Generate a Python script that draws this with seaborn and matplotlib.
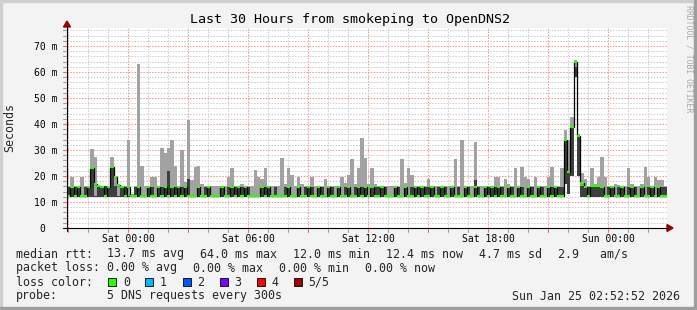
import matplotlib
matplotlib.use("Agg")
import matplotlib.pyplot as plt
import seaborn as sns
import numpy as np
import pandas as pd
from matplotlib.transforms import IdentityTransform, ScaledTranslation
from matplotlib.lines import Line2D
from matplotlib.patches import Polygon, Rectangle

# ---------------- data ----------------
START_H = -3.05          # left edge, hours relative to Sat 00:00
STEP_H = 1.0 / 6.0       # 10-minute bins
SPAN_H = 30.0

med = [
    12.2, 15.6, 12.2, 15.6, 12.2, 12.2, 15.6, 23.0, 16.8, 16.0, 15.8, 12.2,
    15.6, 23.3, 19.5, 16.5, 15.6, 12.2, 15.6, 12.2, 12.2, 15.6, 12.2, 12.2,
    15.6, 12.2, 12.2, 15.6, 12.2, 15.6, 12.2, 15.6, 12.2, 15.6, 12.2, 15.6,
    12.2, 12.2, 12.2, 15.6, 12.2, 12.2, 15.6, 12.2, 12.2, 12.2, 15.6, 12.2,
    12.2, 15.6, 12.2, 15.6, 12.2, 15.6, 12.2, 12.2, 12.2, 12.2, 15.6, 12.2,
    15.6, 12.2, 12.2, 12.2, 12.2, 12.2, 15.6, 12.2, 12.2, 15.6, 12.2, 12.2,
    15.6, 12.2, 12.2, 15.6, 12.2, 12.2, 15.6, 12.2, 12.2, 15.6, 12.2, 12.2,
    15.6, 12.2, 12.2, 15.6, 12.2, 15.6, 12.2, 15.6, 12.2, 12.2, 15.6, 12.2,
    12.2, 12.2, 15.6, 12.2, 12.2, 15.6, 12.2, 12.2, 15.6, 12.2, 15.6, 12.2,
    12.2, 15.6, 12.2, 12.2, 15.6, 12.2, 12.2, 15.6, 12.2, 12.2, 12.2, 15.6,
    12.2, 12.2, 15.6, 12.2, 12.2, 15.6, 12.2, 15.6, 12.2, 15.6, 12.2, 12.2,
    15.6, 12.2, 12.2, 15.6, 12.2, 12.2, 15.6, 12.2, 12.2, 15.6, 12.2, 12.2,
    15.6, 12.2, 15.6, 12.2, 12.2, 34.0, 21.4, 39.0, 64.0, 35.4, 17.3, 15.6,
    12.2, 16.0, 16.0, 16.0, 15.6, 12.2, 12.2, 15.6, 12.2, 12.2, 15.6, 12.2,
    12.2, 15.6, 12.2, 12.2, 15.6, 12.2, 12.2, 15.6, 12.2, 15.6, 12.2, 12.2,
]

dark = [
    15.6, 15.8, 15.6, 16.0, 12.2, 15.8, 15.8, 23.0, 12.2, 16.0, 16.0, 16.0,
    16.0, 23.3, 16.0, 12.2, 15.8, 15.6, 12.2, 12.2, 15.6, 15.8, 12.2, 12.2,
    15.8, 15.6, 12.2, 15.8, 15.6, 15.8, 22.0, 15.8, 15.6, 16.0, 15.6, 15.6,
    19.0, 12.2, 12.2, 15.8, 12.2, 15.6, 15.8, 12.2, 12.2, 12.2, 15.8, 12.2,
    15.6, 15.8, 15.6, 15.8, 15.6, 15.8, 15.6, 12.2, 12.2, 12.2, 15.8, 15.6,
    15.8, 12.2, 15.6, 12.2, 12.2, 15.6, 15.8, 12.2, 12.2, 15.8, 12.2, 15.6,
    15.8, 15.6, 12.2, 15.8, 15.6, 12.2, 15.8, 15.6, 12.2, 15.8, 12.2, 15.6,
    15.8, 12.2, 15.6, 15.8, 15.6, 15.8, 12.2, 15.8, 15.6, 15.6, 15.8, 15.6,
    12.2, 12.2, 15.8, 15.6, 12.2, 15.8, 12.2, 15.6, 15.8, 15.6, 15.8, 15.6,
    15.6, 15.8, 12.2, 15.6, 15.8, 15.6, 12.2, 15.8, 12.2, 15.6, 12.2, 15.8,
    15.6, 12.2, 18.6, 15.6, 12.2, 15.8, 15.6, 15.8, 15.6, 15.8, 15.6, 12.2,
    15.8, 15.6, 12.2, 15.8, 15.6, 12.2, 15.8, 15.6, 12.2, 15.8, 15.6, 12.2,
    15.8, 15.6, 15.8, 15.6, 15.6, 34.0, 21.4, 39.0, 62.0, 35.4, 16.0, 15.8,
    15.6, 16.0, 16.0, 15.8, 15.8, 12.2, 15.6, 15.8, 12.2, 15.6, 15.8, 12.2,
    15.6, 15.8, 15.6, 12.2, 15.8, 12.2, 15.6, 15.8, 12.2, 15.8, 15.6, 15.6,
]

hi = [
    16.0, 19.7, 16.0, 16.2, 19.7, 16.0, 16.0, 30.3, 27.4, 16.4, 16.2, 16.2,
    16.2, 27.4, 19.7, 17.0, 16.0, 16.0, 34.0, 13.0, 16.0, 63.0, 24.0, 16.0,
    16.0, 19.7, 19.7, 16.0, 30.6, 28.7, 30.6, 33.8, 24.0, 16.2, 30.0, 17.8,
    41.5, 18.5, 23.3, 24.0, 16.9, 16.0, 16.0, 16.0, 16.0, 16.0, 16.0, 16.0,
    19.7, 23.0, 16.0, 16.0, 17.0, 16.0, 16.0, 16.0, 22.3, 19.7, 18.9, 23.0,
    16.0, 16.0, 16.0, 16.0, 26.8, 17.0, 23.0, 20.5, 16.0, 19.7, 17.0, 16.0,
    16.0, 19.7, 16.0, 16.0, 16.0, 19.0, 16.0, 16.0, 16.3, 16.0, 19.7, 17.3,
    20.4, 26.4, 17.0, 23.0, 34.5, 26.8, 17.0, 23.0, 16.9, 16.0, 16.0, 16.0,
    16.0, 16.0, 16.0, 16.0, 26.4, 17.2, 23.0, 20.5, 16.0, 16.0, 16.3, 16.0,
    18.9, 16.0, 16.0, 16.0, 16.0, 16.0, 16.0, 16.0, 26.4, 16.0, 33.8, 16.0,
    16.0, 16.0, 33.2, 16.0, 16.0, 16.0, 16.0, 16.0, 19.7, 19.7, 16.0, 19.0,
    17.0, 16.0, 23.0, 16.0, 23.6, 19.7, 19.0, 16.0, 19.7, 16.0, 16.0, 16.0,
    19.7, 23.6, 16.0, 16.0, 23.0, 37.7, 34.0, 42.8, 64.5, 36.0, 21.0, 19.0,
    16.0, 23.0, 17.0, 19.7, 27.4, 19.7, 16.0, 16.0, 17.0, 16.5, 16.0, 16.0,
    23.0, 17.0, 16.0, 16.0, 17.0, 23.6, 19.7, 16.0, 19.7, 18.5, 18.5, 16.0,
]

lo = [
    11.8, 11.8, 11.8, 11.8, 11.8, 11.8, 11.8, 11.8, 11.8, 11.8, 11.8, 11.8,
    11.8, 11.8, 11.8, 11.8, 11.8, 11.8, 11.8, 11.8, 11.8, 11.8, 11.8, 11.8,
    11.8, 11.8, 11.8, 11.8, 11.8, 11.8, 11.8, 11.8, 11.8, 11.8, 11.8, 11.8,
    11.8, 11.8, 11.8, 11.8, 11.8, 11.8, 11.8, 11.8, 11.8, 11.8, 11.8, 11.8,
    11.8, 11.8, 11.8, 11.8, 11.8, 11.8, 11.8, 11.8, 11.8, 11.8, 11.8, 11.8,
    11.8, 11.8, 11.8, 11.8, 11.8, 11.8, 11.8, 11.8, 11.8, 11.8, 11.8, 11.8,
    11.8, 11.8, 11.8, 11.8, 11.8, 11.8, 11.8, 11.8, 11.8, 11.8, 11.8, 11.8,
    11.8, 11.8, 11.8, 11.8, 11.8, 11.8, 11.8, 11.8, 11.8, 11.8, 11.8, 11.8,
    11.8, 11.8, 11.8, 11.8, 11.8, 11.8, 11.8, 11.8, 11.8, 11.8, 11.8, 11.8,
    11.8, 11.8, 11.8, 11.8, 11.8, 11.8, 11.8, 11.8, 11.8, 11.8, 11.8, 11.8,
    11.8, 11.8, 11.8, 11.8, 11.8, 11.8, 11.8, 11.8, 11.8, 11.8, 11.8, 11.8,
    11.8, 11.8, 11.8, 11.8, 11.8, 11.8, 11.8, 11.8, 11.8, 11.8, 11.8, 11.8,
    11.8, 11.8, 11.8, 11.8, 11.8, 17.0, 13.0, 20.0, 58.0, 20.0, 11.8, 11.8,
    11.8, 11.8, 11.8, 11.8, 11.8, 11.8, 11.8, 11.8, 11.8, 11.8, 11.8, 11.8,
    11.8, 11.8, 11.8, 11.8, 11.8, 11.8, 11.8, 11.8, 11.8, 11.8, 11.8, 11.8,
]

x_tick_hours = [0, 6, 12, 18, 24]
x_tick_labels = ["Sat 00:00", "Sat 06:00", "Sat 12:00", "Sat 18:00", "Sun 00:00"]
y_tick_vals = [0, 10, 20, 30, 40, 50, 60, 70]
y_tick_labels = ["0", "10 m", "20 m", "30 m", "40 m", "50 m", "60 m", "70 m"]
Y_MAX = 76.9

title = "Last 30 Hours from smokeping to OpenDNS2"
rtt_stats = ["13.7 ms avg", "64.0 ms max", "12.0 ms min", "12.4 ms now", "4.7 ms sd", "2.9   am/s"]
loss_stats = ["0.00 % avg", "0.00 % max", "0.00 % min", "0.00 % now"]
loss_labels = ["0", "1", "2", "3", "4", "5/5"]
loss_colors = ["#26ff00", "#00b8ff", "#0059ff", "#7e00ff", "#ff0000", "#a10000"]
probe_text = "5 DNS requests every 300s"
stamp = "Sun Jan 25 02:52:52 2026"

# ---------------- figure ----------------
W, H = 697, 310
sns.set_theme(style="white")
plt.rcParams["font.family"] = ["DejaVu Sans Mono", "DejaVu Sans"]

fig = plt.figure(figsize=(W / 100, H / 100), dpi=100, facecolor="#f3f3f3")
ax = fig.add_axes([67 / W, (H - 228) / H, 600 / W, 200 / H])
ax.set_facecolor("white")

n = len(med)
t = START_H + np.arange(n) * STEP_H
df = pd.DataFrame({"t": t, "med": med, "dark": dark, "hi": hi, "lo": lo})

# grid (under the smoke)
minor_c, major_c = "#cdcdcd", "#ff9090"
for h in range(int(np.ceil(START_H)), int(START_H + SPAN_H) + 1):
    c = major_c if h % 3 == 0 else minor_c
    ax.axvline(h, color=c, lw=0.75, ls=(0, (1.4, 1.4)), zorder=1)
for v in np.arange(2, Y_MAX, 2):
    c = major_c if int(round(v)) % 10 == 0 else minor_c
    ax.axhline(v, color=c, lw=0.75, ls=(0, (1.4, 1.4)), zorder=1)

# smoke
ax.bar(df["t"], df["hi"] - df["lo"], bottom=df["lo"], width=STEP_H, align="edge",
       color="#a2a2a2", linewidth=0, zorder=2)
ax.bar(df["t"], np.maximum(df["dark"] - df["lo"], 0), bottom=df["lo"], width=STEP_H,
       align="edge", color="#3e3e3e", linewidth=0, zorder=3)

# median: black step line + green segments
step_df = pd.DataFrame({"t": np.append(t, t[-1] + STEP_H), "m": np.append(med, med[-1])})
sns.lineplot(data=step_df, x="t", y="m", ax=ax, color="black", lw=0.9,
             drawstyle="steps-post", estimator=None, zorder=5)
ax.hlines(df["med"], df["t"], df["t"] + STEP_H, color="#26ff00", lw=1.6, zorder=6)

ax.set_xlim(START_H, START_H + SPAN_H)
ax.set_ylim(0, Y_MAX)
ax.set_xticks(x_tick_hours)
ax.set_xticklabels(x_tick_labels)
ax.set_yticks(y_tick_vals)
ax.set_yticklabels(y_tick_labels)
ax.tick_params(axis="both", length=0, labelsize=7.0, colors="black")
ax.tick_params(axis="x", pad=4)
ax.tick_params(axis="y", pad=7)
ax.set_xlabel("")
ax.set_ylabel("")
for s in ax.spines.values():
    s.set_visible(False)
# rrdtool leaves the unit column blank for zero, so "0" sits further left
for lbl in ax.get_yticklabels():
    if lbl.get_text() == "0":
        lbl.set_transform(lbl.get_transform() + ScaledTranslation(-0.12, 0, fig.dpi_scale_trans))

tr = IdentityTransform()

def P(x, y):
    return (x, H - y)

# axes lines and arrows
fig.add_artist(Line2D([63, 668], [H - 228, H - 228], color="black", lw=0.8, transform=tr))
fig.add_artist(Line2D([67, 67], [H - 231, H - 26], color="black", lw=0.8, transform=tr))
fig.add_artist(Polygon([P(667, 224.5), P(673, 228), P(667, 231.5)], closed=True,
                       color="#990000", transform=tr))
fig.add_artist(Polygon([P(63.5, 27), P(67, 21), P(70.5, 27)], closed=True,
                       color="#990000", transform=tr))
# small tick marks
for h in range(int(np.ceil(START_H)), int(START_H + SPAN_H) + 1):
    xp = 67 + (h - START_H) * 20
    c = "#ff6060" if h % 3 == 0 else "#a0a0a0"
    fig.add_artist(Line2D([xp, xp], [H - 229, H - 232], color=c, lw=0.8, transform=tr))
for v in np.arange(2, Y_MAX, 2):
    yp = 228 - v * 2.6
    c = "#ff6060" if int(round(v)) % 10 == 0 else "#a0a0a0"
    fig.add_artist(Line2D([63, 66], [H - yp, H - yp], color=c, lw=0.8, transform=tr))

# frame border
fig.add_artist(Rectangle((0, H - 2), W, 2, color="#cfcfcf", transform=tr))
fig.add_artist(Rectangle((0, 0), 2, H, color="#cfcfcf", transform=tr))
fig.add_artist(Rectangle((0, 0), W, 3, color="#9e9e9e", transform=tr))
fig.add_artist(Rectangle((W - 3, 0), 3, H, color="#9e9e9e", transform=tr))

# texts
fig.text(350, H - 19, title, transform=tr, ha="center", va="center", fontsize=9.6,
         color="black")
fig.text(10, H - 127, "Seconds", transform=tr, ha="center", va="center", fontsize=8.4,
         rotation=90)
fig.text(689, H - 59, "RRDTOOL / TOBI OETIKER", transform=tr, ha="center", va="center",
         fontsize=5.9, rotation=270, color="#a8a8a8")

LF = 8.35
y1, y2, y3, y4 = 254, 268, 282, 296
fig.text(16, H - y1, "median rtt:", transform=tr, va="center", fontsize=LF)
for xp, s in zip([107.3, 200, 293.3, 386, 479, 558.3], rtt_stats):
    fig.text(xp, H - y1, s, transform=tr, va="center", fontsize=LF)
fig.text(16, H - y2, "packet loss:", transform=tr, va="center", fontsize=LF)
for xp, s in zip([107.3, 193.3, 279.3, 365], loss_stats):
    fig.text(xp, H - y2, s, transform=tr, va="center", fontsize=LF)
fig.text(16, H - y3, "loss color:", transform=tr, va="center", fontsize=LF)
for k, (lab, col) in enumerate(zip(loss_labels, loss_colors)):
    bx = 108.3 + k * 37.1
    fig.add_artist(Rectangle((bx, H - y3 - 4), 8, 8, facecolor=col, edgecolor="black",
                             lw=0.6, transform=tr))
    fig.text(bx + 14.5, H - y3, lab, transform=tr, va="center", fontsize=LF)
fig.text(16, H - y4, "probe:", transform=tr, va="center", fontsize=LF)
fig.text(107.3, H - y4, probe_text, transform=tr, va="center", fontsize=LF)
fig.text(680, H - y4, stamp, transform=tr, ha="right", va="center", fontsize=LF)

fig.savefig("out.png", dpi=100, facecolor=fig.get_facecolor())
